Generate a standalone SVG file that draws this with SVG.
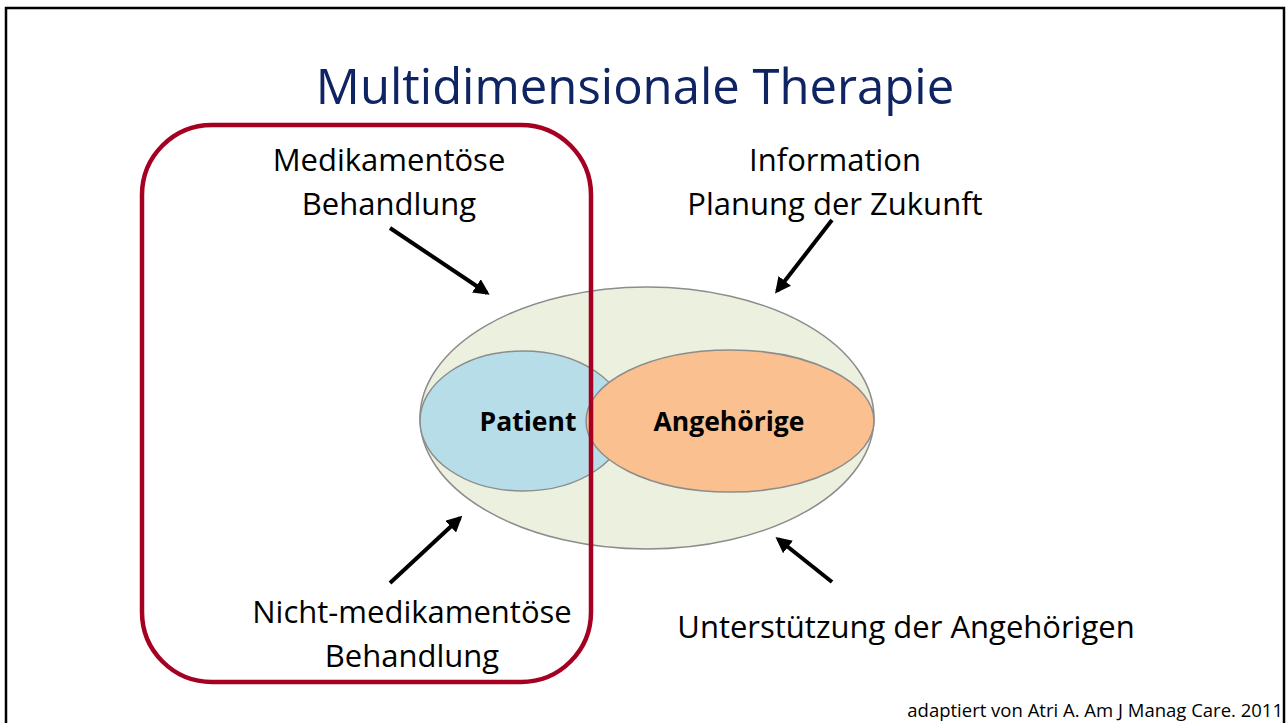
<svg xmlns="http://www.w3.org/2000/svg" width="1286" height="723" viewBox="0 0 1286 723">
  <style>
    .lbl { font-family: "Open Sans", "Liberation Sans", sans-serif; font-size: 31px; fill: #000; text-anchor: middle; }
    .core { font-family: "Open Sans", "Liberation Sans", sans-serif; font-size: 26.5px; font-weight: bold; fill: #000; text-anchor: middle; }
    .title { font-family: "Open Sans", "Liberation Sans", sans-serif; font-size: 49px; fill: #0E2463; text-anchor: middle; }
    .note { font-family: "Open Sans", "Liberation Sans", sans-serif; font-size: 18.5px; fill: #000; text-anchor: end; }
    .ell { stroke: #8C8C8C; stroke-width: 1.5; }
    .arrow { stroke: #000; stroke-width: 4; fill: none; marker-end: url(#head); }
  </style>
  <defs>
    <marker id="head" viewBox="0 0 10 10" refX="8" refY="5" markerWidth="4" markerHeight="4" orient="auto" markerUnits="strokeWidth">
      <path d="M0,0 L10,5 L0,10 z" fill="#000"/>
    </marker>
  </defs>

  <rect width="1286" height="723" fill="#fff"/>
  <!-- slide frame -->
  <path d="M6,723 V8 H1284 V723" fill="none" stroke="#000" stroke-width="2.5"/>

  <text class="title" x="635" y="104">Multidimensionale Therapie</text>

  <g id="umfeld">
    <ellipse class="ell" cx="647" cy="418" rx="227" ry="131" fill="#EBF1DE"/>
  </g>
  <g id="patient">
    <ellipse class="ell" cx="523" cy="421" rx="103" ry="70" fill="#B7DDE8"/>
    <text class="core" x="528" y="431">Patient</text>
  </g>
  <g id="angehoerige">
    <ellipse class="ell" cx="730" cy="421" rx="144" ry="71" fill="#FAC090"/>
    <text class="core" x="729" y="431">Angehörige</text>
  </g>

  <g id="behandlung-rahmen">
    <rect x="142" y="125" width="449" height="557" rx="70" ry="70" fill="none" stroke="#A50021" stroke-width="4.5"/>
  </g>

  <g id="medikamentoes">
    <text class="lbl" x="389" y="171">Medikamentöse</text>
    <text class="lbl" x="389" y="215">Behandlung</text>
  </g>
  <g id="information">
    <text class="lbl" x="835" y="171">Information</text>
    <text class="lbl" x="835" y="215">Planung der Zukunft</text>
  </g>
  <g id="nicht-medikamentoes">
    <text class="lbl" x="412" y="623">Nicht-medikamentöse</text>
    <text class="lbl" x="412" y="667">Behandlung</text>
  </g>
  <g id="unterstuetzung">
    <text class="lbl" x="906" y="638">Unterstützung der Angehörigen</text>
  </g>

  <g id="connectors">
    <line class="arrow" x1="390" y1="228" x2="487" y2="293"/>
    <line class="arrow" x1="832" y1="220" x2="777" y2="291"/>
    <line class="arrow" x1="390" y1="583" x2="460" y2="518"/>
    <line class="arrow" x1="832" y1="582" x2="778" y2="539"/>
  </g>

  <text class="note" x="1283" y="717">adaptiert von Atri A. Am J Manag Care. 2011</text>
</svg>
